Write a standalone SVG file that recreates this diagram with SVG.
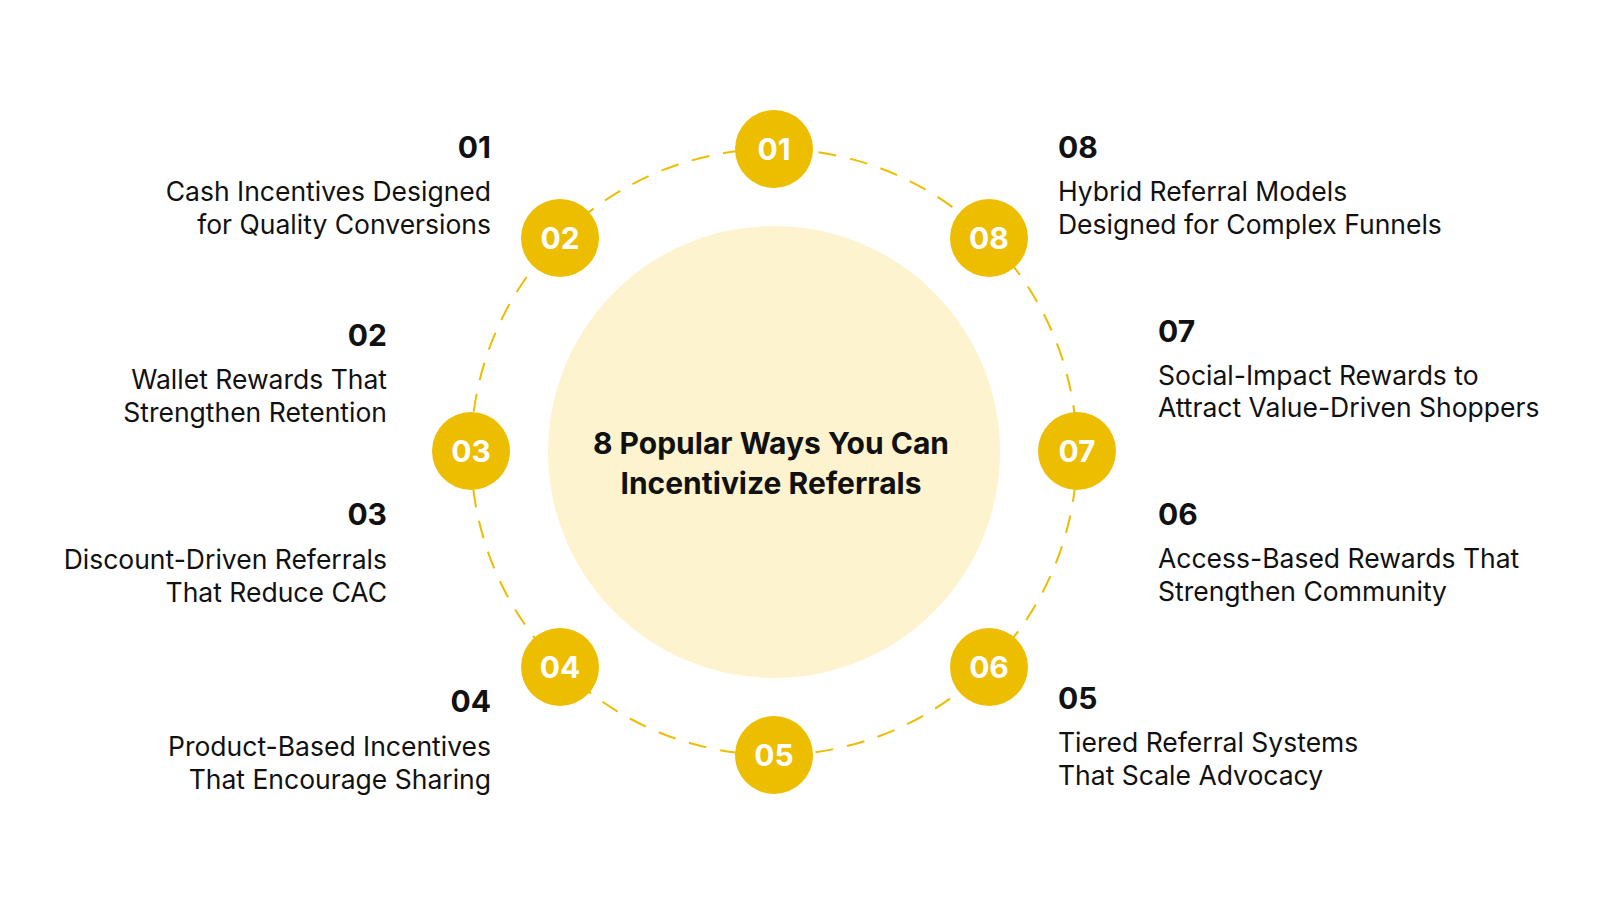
<svg xmlns="http://www.w3.org/2000/svg" width="1600" height="900" viewBox="0 0 1600 900">
<style>
.n{fill:#EDBD00}
.nt{font-family:Inter,"Liberation Sans",sans-serif;font-weight:700;font-size:30px;fill:#fff;text-anchor:middle}
.h{font-family:Inter,"Liberation Sans",sans-serif;font-weight:700;font-size:30px;fill:#111}
.t{font-family:Inter,"Liberation Sans",sans-serif;font-size:26.5px;fill:#111}
.r{text-anchor:end}
</style>
<rect width="1600" height="900" fill="#fff"/>
<g id="connectors"><circle cx="774" cy="452" r="303" fill="none" stroke="#EDBD00" stroke-width="2" stroke-dasharray="18 14"/></g>
<g id="center"><circle cx="774" cy="452" r="226" fill="#FDF4CF"/>
<text class="h" x="771" y="454" text-anchor="middle" font-size="35">8 Popular Ways You Can</text>
<text class="h" x="771" y="494" text-anchor="middle" font-size="35">Incentivize Referrals</text></g>
<g id="n01"><circle class="n" cx="774" cy="149" r="39"/><text class="nt" x="774" y="160">01</text></g>
<g id="n02"><circle class="n" cx="560" cy="238" r="39"/><text class="nt" x="560" y="249">02</text></g>
<g id="n03"><circle class="n" cx="471" cy="451" r="39"/><text class="nt" x="471" y="462">03</text></g>
<g id="n04"><circle class="n" cx="560" cy="667" r="39"/><text class="nt" x="560" y="678">04</text></g>
<g id="n05"><circle class="n" cx="774" cy="755" r="39"/><text class="nt" x="774" y="766">05</text></g>
<g id="n06"><circle class="n" cx="989" cy="667" r="39"/><text class="nt" x="989" y="678">06</text></g>
<g id="n07"><circle class="n" cx="1077" cy="451" r="39"/><text class="nt" x="1077" y="462">07</text></g>
<g id="n08"><circle class="n" cx="989" cy="238" r="39"/><text class="nt" x="989" y="249">08</text></g>
<g id="l01"><text class="h r" x="491" y="158">01</text><text class="t r" x="491" y="201">Cash Incentives Designed</text><text class="t r" x="491" y="234">for Quality Conversions</text></g>
<g id="l02"><text class="h r" x="387" y="346">02</text><text class="t r" x="387" y="389">Wallet Rewards That</text><text class="t r" x="387" y="422">Strengthen Retention</text></g>
<g id="l03"><text class="h r" x="387" y="525">03</text><text class="t r" x="387" y="569">Discount-Driven Referrals</text><text class="t r" x="387" y="602">That Reduce CAC</text></g>
<g id="l04"><text class="h r" x="491" y="712">04</text><text class="t r" x="491" y="756">Product-Based Incentives</text><text class="t r" x="491" y="789">That Encourage Sharing</text></g>
<g id="l05"><text class="h" x="1058" y="709">05</text><text class="t" x="1058" y="752">Tiered Referral Systems</text><text class="t" x="1058" y="785">That Scale Advocacy</text></g>
<g id="l06"><text class="h" x="1158" y="525">06</text><text class="t" x="1158" y="568">Access-Based Rewards That</text><text class="t" x="1158" y="601">Strengthen Community</text></g>
<g id="l07"><text class="h" x="1158" y="342">07</text><text class="t" x="1158" y="385">Social-Impact Rewards to</text><text class="t" x="1158" y="417">Attract Value-Driven Shoppers</text></g>
<g id="l08"><text class="h" x="1058" y="158">08</text><text class="t" x="1058" y="201">Hybrid Referral Models</text><text class="t" x="1058" y="234">Designed for Complex Funnels</text></g>
</svg>
